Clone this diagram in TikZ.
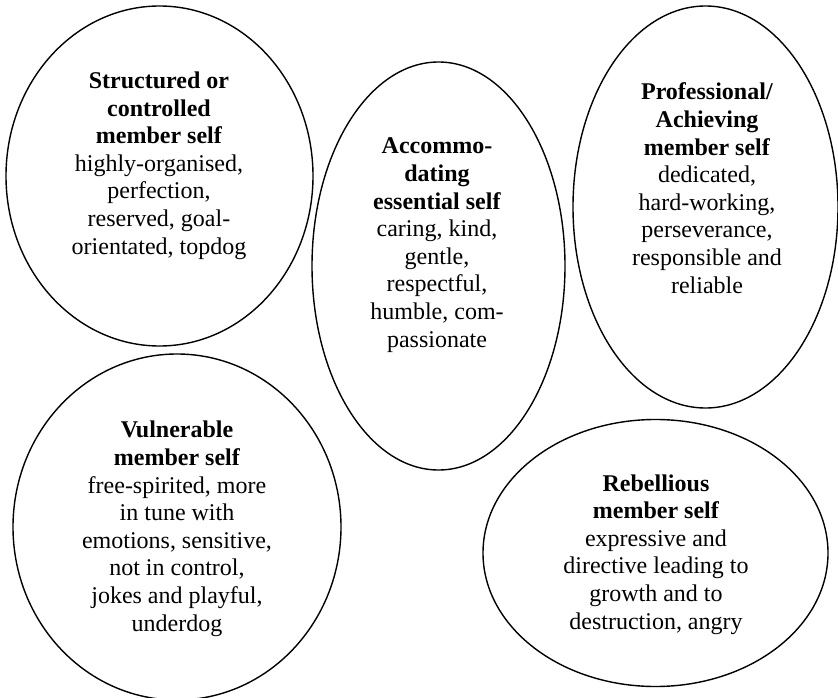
\documentclass[tikz,border=0pt]{standalone}
\usepackage{fontspec}
\setmainfont{Liberation Serif}
\usetikzlibrary{shapes.geometric}
\begin{document}
\begin{tikzpicture}[x=1pt,y=-1pt,
  selfring/.style={draw, ellipse, line width=1.4pt, inner sep=0pt, outer sep=0pt},
  selftext/.style={align=center, anchor=base, inner sep=0pt,
    font=\fontsize{24}{27.6}\selectfont}]
  \useasboundingbox (0,0) rectangle (838,698);

  % the five member-self ellipses
  \node[selfring, minimum width=307pt, minimum height=340pt] (structured) at (159.5,176) {};
  \node[selfring, minimum width=253pt, minimum height=408pt] (essential) at (438.5,266) {};
  \node[selfring, minimum width=265pt, minimum height=402pt] (professional) at (705.5,207) {};
  \node[selfring, minimum width=328pt, minimum height=346pt] (vulnerable) at (177,527) {};
  \node[selfring, minimum width=345pt, minimum height=267pt] (rebellious) at (655.5,553) {};

  % their descriptions, placed by the baseline of the last line
  \node[selftext] (structuredtxt) at (159,254)
    {\textbf{Structured or}\\\textbf{controlled}\\\textbf{member self}\\highly-organised,\\perfection,\\reserved, goal-\\orientated, topdog};
  \node[selftext] (essentialtxt) at (437,347)
    {\textbf{Accommo-}\\\textbf{dating}\\\textbf{essential self}\\caring, kind,\\gentle,\\respectful,\\humble, com-\\passionate};
  \node[selftext] (professionaltxt) at (707,293)
    {\textbf{Professional/}\\\textbf{Achieving}\\\textbf{member self}\\dedicated,\\hard-working,\\perseverance,\\responsible and\\reliable};
  \node[selftext] (vulnerabletxt) at (177,631)
    {\textbf{Vulnerable}\\\textbf{member self}\\free-spirited, more\\in tune with\\emotions, sensitive,\\not in control,\\jokes and playful,\\underdog};
  \node[selftext] (rebellioustxt) at (656,629)
    {\textbf{Rebellious}\\\textbf{member self}\\expressive and\\directive leading to\\growth and to\\destruction, angry};
\end{tikzpicture}
\end{document}
